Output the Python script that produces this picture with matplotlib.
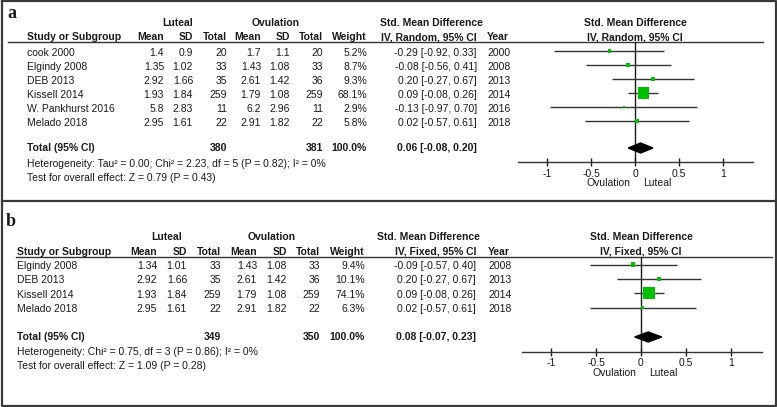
import matplotlib
matplotlib.use("Agg")
import matplotlib.pyplot as plt
from matplotlib.patches import Polygon

plt.rcParams['font.family'] = ['Liberation Sans', 'DejaVu Sans']

# ---- panel a: random effects, 6 studies
studies_a = ["cook 2000", "Elgindy 2008", "DEB 2013", "Kissell 2014", "W. Pankhurst 2016", "Melado 2018"]
lut_mean_a = [1.4, 1.35, 2.92, 1.93, 5.8, 2.95]
lut_sd_a = [0.9, 1.02, 1.66, 1.84, 2.83, 1.61]
lut_n_a = [20, 33, 35, 259, 11, 22]
ov_mean_a = [1.7, 1.43, 2.61, 1.79, 6.2, 2.91]
ov_sd_a = [1.1, 1.08, 1.42, 1.08, 2.96, 1.82]
ov_n_a = [20, 33, 36, 259, 11, 22]
weight_a = [5.2, 8.7, 9.3, 68.1, 2.9, 5.8]
smd_a = [-0.29, -0.08, 0.20, 0.09, -0.13, 0.02]
lo_a = [-0.92, -0.56, -0.27, -0.08, -0.97, -0.57]
hi_a = [0.33, 0.41, 0.67, 0.26, 0.70, 0.61]
year_a = [2000, 2008, 2013, 2014, 2016, 2018]
totals_a = [380, 381]
pooled_a = [0.06, -0.08, 0.20]
method_a = "IV, Random, 95% CI"
het_a = "Heterogeneity: Tau\u00b2 = 0.00; Chi\u00b2 = 2.23, df = 5 (P = 0.82); I\u00b2 = 0%"
test_a = "Test for overall effect: Z = 0.79 (P = 0.43)"

# ---- panel b: fixed effect, 4 studies
studies_b = ["Elgindy 2008", "DEB 2013", "Kissell 2014", "Melado 2018"]
lut_mean_b = [1.34, 2.92, 1.93, 2.95]
lut_sd_b = [1.01, 1.66, 1.84, 1.61]
lut_n_b = [33, 35, 259, 22]
ov_mean_b = [1.43, 2.61, 1.79, 2.91]
ov_sd_b = [1.08, 1.42, 1.08, 1.82]
ov_n_b = [33, 36, 259, 22]
weight_b = [9.4, 10.1, 74.1, 6.3]
smd_b = [-0.09, 0.20, 0.09, 0.02]
lo_b = [-0.57, -0.27, -0.08, -0.57]
hi_b = [0.40, 0.67, 0.26, 0.61]
year_b = [2008, 2013, 2014, 2018]
totals_b = [349, 350]
pooled_b = [0.08, -0.07, 0.23]
method_b = "IV, Fixed, 95% CI"
het_b = "Heterogeneity: Chi\u00b2 = 0.75, df = 3 (P = 0.86); I\u00b2 = 0%"
test_b = "Test for overall effect: Z = 1.09 (P = 0.28)"

ticks = [-1, -0.5, 0, 0.5, 1]
tick_labels = ["-1", "-0.5", "0", "0.5", "1"]

W, H = 777, 407
INK = '#1a1a1a'
GREEN = '#00c000'
FS = 7.5

fig = plt.figure(figsize=(W / 100, H / 100), dpi=100)
bg = fig.add_axes([0, 0, 1, 1])
bg.set_xlim(0, W)
bg.set_ylim(H, 0)
bg.axis('off')


def txt(x, y, s, ha='left', bold=False):
    bg.text(x, y, s, ha=ha, va='center', fontsize=FS, color=INK,
            fontweight='bold' if bold else 'normal')


def draw_panel(lay, studies, lm, lsd, ln, om, osd, on, wt, smd, lo, hi, yr,
               totals, pooled, method, het, test):
    c = lay['cols']
    bg.text(lay['label_x'], lay['label_y'], lay['label'], ha='left', va='center',
            fontsize=13, fontweight='bold', family='Liberation Serif', color=INK)
    # group headers
    txt(lay['grp_x'][0], lay['grp_y'], "Luteal", 'center', True)
    txt(lay['grp_x'][1], lay['grp_y'], "Ovulation", 'center', True)
    txt(lay['smd_x'], lay['grp_y'], "Std. Mean Difference", 'center', True)
    txt(lay['zero'], lay['grp_y'], "Std. Mean Difference", 'center', True)
    hy = lay['head_y']
    txt(c[0], hy, "Study or Subgroup", 'left', True)
    for x, s in zip(c[1:], ["Mean", "SD", "Total", "Mean", "SD", "Total", "Weight"]):
        txt(x, hy, s, 'right', True)
    txt(lay['ci_x'], hy, method, 'right', True)
    txt(lay['year_x'], hy, "Year", 'left', True)
    txt(lay['zero'], hy, method, 'center', True)
    bg.plot(lay['line_x'], [lay['line_y']] * 2, color='#333333', lw=1)

    rows = [lay['row0'] + i * lay['step'] for i in range(len(studies))]
    for i, y in enumerate(rows):
        txt(c[0], y, studies[i])
        vals = [f"{lm[i]:g}", f"{lsd[i]:g}", str(ln[i]), f"{om[i]:g}",
                f"{osd[i]:g}", str(on[i]), f"{wt[i]:.1f}%"]
        for x, s in zip(c[1:], vals):
            txt(x, y, s, 'right')
        txt(lay['ci_x'], y, f"{smd[i]:.2f} [{lo[i]:.2f}, {hi[i]:.2f}]", 'right')
        txt(lay['year_x'], y, str(yr[i]))

    ty = lay['total_y']
    txt(c[0], ty, "Total (95% CI)", 'left', True)
    txt(c[3], ty, str(totals[0]), 'right', True)
    txt(c[6], ty, str(totals[1]), 'right', True)
    txt(c[7], ty, "100.0%", 'right', True)
    txt(lay['ci_x'], ty, f"{pooled[0]:.2f} [{pooled[1]:.2f}, {pooled[2]:.2f}]", 'right', True)
    txt(c[0], lay['het_y'], het)
    txt(c[0], lay['test_y'], test)

    # forest plot axes, y in pixel units
    x0, x1 = lay['ax_x']
    ay = lay['axis_y']
    ax = fig.add_axes([x0 / W, 1 - ay / H, (x1 - x0) / W, (ay - lay['line_y']) / H])
    ax.set_facecolor('none')
    ax.set_xlim((x0 - lay['zero']) / lay['scale'], (x1 - lay['zero']) / lay['scale'])
    ax.set_ylim(ay, lay['line_y'])
    for s in ['top', 'left', 'right']:
        ax.spines[s].set_visible(False)
    ax.spines['bottom'].set_color('#333333')
    ax.spines['bottom'].set_linewidth(1)
    ax.set_yticks([])
    ax.set_xticks(ticks)
    ax.set_xticklabels(tick_labels)
    ax.tick_params(axis='x', direction='inout', length=6, width=1, pad=1.5,
                   labelsize=FS, colors=INK)
    ax.axvline(0, color=INK, lw=1)
    my = [y - lay['mark_off'] for y in rows]
    ax.hlines(my, lo, hi, color='#333333', lw=1)
    ax.scatter(smd, my, s=[w * 0.95 for w in wt], marker='s', color=GREEN,
               linewidths=0, zorder=3)
    est, plo, phi = pooled
    ax.add_patch(Polygon([[plo, ty], [est, ty - 5], [phi, ty], [est, ty + 5]],
                         closed=True, color='black', zorder=3))
    txt(lay['zero'] - 5, ay + 21, "Ovulation", 'right')
    txt(lay['zero'] + 8, ay + 21, "Luteal", 'left')


lay_a = dict(label='a', label_x=7, label_y=13, grp_y=23, head_y=37, line_y=42,
             row0=53, step=14, total_y=148, het_y=164, test_y=178, axis_y=162.3,
             cols=[27, 164, 193, 227, 261, 290, 323, 367], grp_x=(178, 275.5),
             smd_x=431, ci_x=477, year_x=487, line_x=(8, 763), zero=635.3,
             scale=88, ax_x=(518, 753), mark_off=2)
lay_b = dict(label='b', label_x=6, label_y=222, grp_y=237, head_y=252, line_y=257,
             row0=266, step=14.4, total_y=337, het_y=352, test_y=366, axis_y=351.7,
             cols=[17, 157, 187, 221, 257, 287, 320, 365], grp_x=(167, 272),
             smd_x=428, ci_x=476, year_x=488, line_x=(16, 772), zero=641,
             scale=90, ax_x=(521.7, 761.7), mark_off=1.5)

draw_panel(lay_a, studies_a, lut_mean_a, lut_sd_a, lut_n_a, ov_mean_a, ov_sd_a,
           ov_n_a, weight_a, smd_a, lo_a, hi_a, year_a, totals_a, pooled_a,
           method_a, het_a, test_a)
draw_panel(lay_b, studies_b, lut_mean_b, lut_sd_b, lut_n_b, ov_mean_b, ov_sd_b,
           ov_n_b, weight_b, smd_b, lo_b, hi_b, year_b, totals_b, pooled_b,
           method_b, het_b, test_b)

# panel frames
frame = dict(color='#3a3a3a', lw=1.6)
bg.plot([1.5, 775.5, 775.5, 1.5, 1.5], [1, 1, 406, 406, 1], **frame)
bg.plot([1.5, 775.5], [201, 201], **frame)

fig.savefig("out.png", dpi=100)
